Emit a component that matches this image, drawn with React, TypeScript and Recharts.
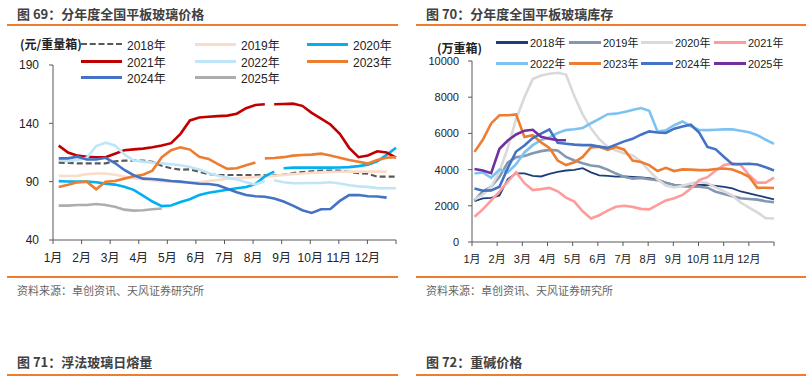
import React from 'react'
import { LineChart, Line, XAxis, YAxis } from 'recharts'

const FONT = '"Liberation Sans", "Noto Sans CJK SC", sans-serif'
const CJK = '"Noto Sans CJK SC", "Liberation Sans", sans-serif'

const MONTHS = ['1月', '2月', '3月', '4月', '5月', '6月', '7月', '8月', '9月', '10月', '11月', '12月']
const MONTH_TICKS = [0, 1, 2, 3, 4, 5, 6, 7, 8, 9, 10, 11, 12]
const YEARS = ['2018年', '2019年', '2020年', '2021年', '2022年', '2023年', '2024年', '2025年']

// BREAK marks a hole in a line between its two neighbours (it takes no slot on the grid)
const BREAK = null

// 图69 平板玻璃价格 (元/重量箱), roughly every 1/3 month
const PRICE_TICKS = [40, 90, 140, 190]
const PRICE_2018 = [106.3, 106, 105.7, 105.7, 105.7, 105.7, 107.5, 108, 108, 108, 107, 103.6, 101.5, 100.2, 100.5, 98.5, 96.5, 95.7, 95.7, 95.7, 95.7, 95.7, 95.5, 95.5, 96, 97.4, 98.3, 98.9, 99.4, 99.4, 99.4, 98.5, 97.3, 96.8, 94.3, 94.3, 94.3]
const PRICE_2019 = [95, 94.9, 95, 96.5, 97, 97, 96, 94.5, 93, 92, 91, 90.5, 90, 89.5, 89.5, 89.5, 90.5, 91.5, 92.5, 93, 93.5, 94, 94.5, 95, 95.8, 96.5, 97, 97.5, 98, 98.3, 98.5, 98.6, 98.6, 98.6, 98.6, 98.6]
const PRICE_2020 = [90.5, 90.2, 90, 90, 89.5, 88.3, 87.5, 85.7, 83, 78, 73, 69, 69.5, 72.5, 75, 78.5, 80.5, 81.8, 83, 84.3, 85.5, 88, 94.5, 98.6, BREAK, 101.5, 102, 102, 102, 102, 102, 102.2, 102.5, 103.3, 104.6, 107.5, 113, 119]
const PRICE_2021 = [120.9, 115, 112.3, 111.4, 110.9, 110.9, 114, 117, 117.7, 118.3, 119.5, 121, 123, 131, 142.5, 145, 145.7, 146.2, 146.6, 148.3, 153, 155.7, 156.3, BREAK, 156.4, 156.6, 156.9, 155, 149, 144, 139, 131, 119, 111, 112.5, 116, 115, 110.6]
const PRICE_2022 = [108.6, 107.5, 108.5, 110.5, 120.5, 123.4, 121, 113.5, 108, 107.2, 106.3, 105.8, 105, 104, 102.5, 100.5, 97.5, 95, 93.5, 91.8, 89.5, 87.5, 90.5, BREAK, 91.2, 89.5, 88.6, 88.6, 88.8, 89, 89.5, 88.5, 87, 86, 85.5, 84.5, 84.3, 84.3]
const PRICE_2023 = [85.5, 87.3, 89.4, 90, 83.5, 90, 90.6, 92.6, 94.6, 96, 99.5, 111, 117, 119.4, 117.5, 111.4, 109.5, 105, 101, 101.5, 104, 106.5, BREAK, 110, 110.3, 111, 112.3, 112.9, 113.2, 114, 112.5, 110.5, 108.5, 107, 105.5, 108.5, 110.5, 111]
const PRICE_2024 = [110, 110, 111.4, 109, 109, 110.5, 106, 100, 95.5, 92.6, 92.3, 91.5, 90.6, 90, 89.1, 88.2, 88, 87, 84, 81, 78.5, 77.5, 77.1, 75.5, 73, 69.5, 65.5, 63.2, 66.4, 66.6, 73.5, 78.5, 78.5, 77.5, 77.3, 76.3]
const PRICE_2025 = [69.5, 69.5, 70, 70, 70.8, 70, 68.5, 66, 65.2, 65.5, 66.3, 67]

// 图70 平板玻璃库存 (万重箱)
const STOCK_TICKS = [0, 2000, 4000, 6000, 8000, 10000]
const STOCK_2018 = [2250, 2410, 2440, 2570, 3480, 3790, 3790, 3650, 3620, 3760, 3880, 3950, 3990, 4080, 3850, 3680, 3650, 3610, 3630, 3600, 3570, 3530, 3450, 3280, 3150, 3110, 3090, 3150, 3160, 3100, 3040, 2960, 2790, 2690, 2570, 2470, 2350]
const STOCK_2019 = [2300, 2800, 3050, 3600, 4400, 4680, 4750, 4900, 5020, 5090, 5060, 4700, 4500, 4350, 4230, 4170, 4000, 3780, 3600, 3500, 3540, 3470, 3420, 3280, 3150, 3080, 3050, 3060, 3000, 2780, 2650, 2530, 2420, 2380, 2340, 2250, 2200]
const STOCK_2020 = [2350, 2620, 3050, 3880, 5200, 6800, 8000, 9000, 9200, 9300, 9350, 9250, 8060, 7050, 6280, 5680, 5270, 5050, 4900, 4780, 4450, 3930, 3470, 3120, 3010, 3110, 3230, 3320, 3250, 3020, 2800, 2570, 2180, 1900, 1640, 1320, 1300]
const STOCK_2021 = [1400, 1800, 2300, 2780, 3350, 3850, 3250, 2870, 2920, 2990, 2800, 2450, 2230, 1700, 1300, 1480, 1730, 1950, 2000, 1940, 1830, 1800, 2050, 2300, 2420, 2600, 2950, 3420, 3580, 3950, 4250, 4330, 4250, 3700, 3280, 3280, 3550]
const STOCK_2022 = [3780, 3840, 3550, 4000, 3850, 4300, 4950, 5350, 5630, 5780, 6020, 6180, 6230, 6300, 6560, 6800, 7060, 7090, 7180, 7290, 7400, 7250, 6100, 6170, 6450, 6660, 6400, 6190, 6180, 6200, 6220, 6220, 6150, 6060, 5900, 5650, 5420]
const STOCK_2023 = [4980, 5650, 6550, 7000, 7000, 7050, 5800, 5900, 5500, 5200, 4500, 4250, 4400, 4700, 5230, 5260, 5090, 5250, 5100, 4500, 4420, 4250, 3920, 4100, 3920, 4010, 4000, 3970, 3970, 4030, 4060, 4010, 3830, 3600, 2990, 3000, 2980]
const STOCK_2024 = [2950, 2830, 2850, 3050, 4080, 5000, 5330, 5740, 5990, 6220, 5480, 5430, 5380, 5350, 5350, 5270, 5200, 5380, 5560, 5700, 5930, 6110, 6050, 6030, 6260, 6380, 6480, 6050, 5250, 5120, 4700, 4300, 4310, 4320, 4280, 4130, 3950]
const STOCK_2025 = [4030, 3950, 3800, 5150, 5610, 5940, 6150, 6200, 5810, 5700, 5630, 5620]

const PRICE_SERIES = [PRICE_2018, PRICE_2019, PRICE_2020, PRICE_2021, PRICE_2022, PRICE_2023, PRICE_2024, PRICE_2025]
const STOCK_SERIES = [STOCK_2018, STOCK_2019, STOCK_2020, STOCK_2021, STOCK_2022, STOCK_2023, STOCK_2024, STOCK_2025]

const PRICE_COLORS = ['#595959', '#FADCC9', '#00B0F0', '#C00000', '#BFE6F8', '#ED7D31', '#4472C4', '#ADADAD']
const STOCK_COLORS = ['#1F3D7A', '#8497B0', '#D9D9D9', '#FF9B9B', '#7DC3F2', '#ED7D31', '#4472C4', '#7030A0']

type Pt = { x: number; y: number }

// split a series into drawable pieces on a grid of x = start + k*step
function pieces(values: (number | null)[], start: number, step: number): Pt[][] {
  const out: Pt[][] = [[]]
  let k = 0
  for (const v of values) {
    if (v === BREAK) {
      out.push([])
      continue
    }
    out[out.length - 1].push({ x: start + k * step, y: v as number })
    k++
  }
  return out.filter((p) => p.length > 0)
}

const monthLabel = (v: number) => (v < 12 ? MONTHS[v] : '')

function Legend({ items, colors, x0, cols, rowY, lineW, textDx, fontSize, dashedFirst }: {
  items: number[][]
  colors: string[]
  x0: number
  cols: number[]
  rowY: number[]
  lineW: number
  textDx: number
  fontSize: number
  dashedFirst?: boolean
}) {
  return (
    <>
      {items.map((row, r) =>
        row.map((idx, c) => (
          <div key={idx} style={{ position: 'absolute', left: x0 + cols[c], top: rowY[r] - 8, height: 16, display: 'flex', alignItems: 'center' }}>
            <div
              style={{
                width: lineW,
                height: 0,
                borderTop: dashedFirst && idx === 0 ? `2.5px dashed ${colors[idx]}` : `3px solid ${colors[idx]}`,
              }}
            />
            <span style={{ marginLeft: textDx - lineW, fontSize, color: '#222', fontFamily: FONT, whiteSpace: 'nowrap' }}>{YEARS[idx]}</span>
          </div>
        )),
      )}
    </>
  )
}

const orange = '#ED7D31'

function Rule({ left, width, top }: { left: number; width: number; top: number }) {
  return <div style={{ position: 'absolute', left, width, top, height: 1.5, background: orange }} />
}

function Text({ left, top, size, bold, color, children }: { left: number; top: number; size: number; bold?: boolean; color: string; children: React.ReactNode }) {
  return (
    <div style={{ position: 'absolute', left, top: top - 10, height: 20, lineHeight: '20px', fontSize: size, fontWeight: bold ? 700 : 400, color, fontFamily: CJK, whiteSpace: 'nowrap' }}>
      {children}
    </div>
  )
}

function seriesLines(series: (number | null)[][], colors: string[], start: number, step: number, width: (i: number) => number, dash?: (i: number) => string | undefined) {
  return series.flatMap((s, i) =>
    pieces(s, start, step).map((seg, j) => (
      <Line
        key={`${i}-${j}`}
        data={seg}
        dataKey="y"
        type="linear"
        stroke={colors[i]}
        strokeWidth={width(i)}
        strokeDasharray={dash ? dash(i) : undefined}
        dot={false}
        activeDot={false}
        isAnimationActive={false}
      />
    )),
  )
}

export default function App() {
  const axisStroke = '#595959'
  return (
    <div style={{ position: 'absolute', left: 0, top: 0, width: 812, height: 378, background: '#fff', overflow: 'hidden' }}>
      <Text left={17} top={14} size={13} bold color="#404040">图 69：分年度全国平板玻璃价格</Text>
      <Text left={426} top={14} size={13} bold color="#404040">图 70：分年度全国平板玻璃库存</Text>
      <Rule left={7} width={391} top={24} />
      <Rule left={416} width={390} top={24} />

      <div style={{ position: 'absolute', left: 0, top: 0 }}>
        <LineChart width={406} height={280} margin={{ top: 65, right: 10, bottom: 10, left: 0 }} style={{ fontFamily: FONT }}>
          <XAxis
            type="number"
            dataKey="x"
            domain={[0, 12]}
            ticks={MONTH_TICKS}
            tickFormatter={monthLabel}
            interval={0}
            height={30}
            tickSize={4}
            tickMargin={9}
            stroke={axisStroke}
            tick={{ fontSize: 12, fill: '#222' }}
            allowDuplicatedCategory={false}
          />
          <YAxis
            domain={[40, 190]}
            ticks={PRICE_TICKS}
            width={53}
            tickSize={4}
            tickMargin={10}
            stroke={axisStroke}
            tick={{ fontSize: 12, fill: '#222' }}
          />
          {seriesLines(PRICE_SERIES, PRICE_COLORS, 0.2, 11.8 / 36, (i) => (i === 0 ? 2.2 : 2.6), (i) => (i === 0 ? '6 3' : undefined))}
        </LineChart>
      </div>

      <div style={{ position: 'absolute', left: 406, top: 0 }}>
        <LineChart width={406} height={280} margin={{ top: 61, right: 38, bottom: 10, left: 0 }} style={{ fontFamily: FONT }}>
          <XAxis
            type="number"
            dataKey="x"
            domain={[0, 12]}
            ticks={MONTH_TICKS}
            tickFormatter={monthLabel}
            interval={0}
            height={28}
            tickSize={4}
            tickMargin={9}
            stroke={axisStroke}
            tick={{ fontSize: 11, fill: '#222' }}
            allowDuplicatedCategory={false}
          />
          <YAxis
            domain={[0, 10000]}
            ticks={STOCK_TICKS}
            width={66}
            tickSize={4}
            tickMargin={9}
            stroke={axisStroke}
            tick={{ fontSize: 11, fill: '#222' }}
          />
          {seriesLines(STOCK_SERIES, STOCK_COLORS, 0.1, 11.9 / 36, (i) => (i === 0 ? 1.8 : 2.6))}
        </LineChart>
      </div>

      <Text left={20} top={44} size={12} bold color="#222">(元/重量箱)</Text>
      <Legend
        items={[[0, 1, 2], [3, 4, 5], [6, 7]]}
        colors={PRICE_COLORS}
        x0={81}
        cols={[0, 114, 226]}
        rowY={[44, 61, 77]}
        lineW={41}
        textDx={46}
        fontSize={12}
        dashedFirst
      />

      <Text left={437} top={48} size={12} bold color="#222">(万重箱)</Text>
      <Legend
        items={[[0, 1, 2, 3], [4, 5, 6, 7]]}
        colors={STOCK_COLORS}
        x0={496}
        cols={[0, 73, 145, 218]}
        rowY={[42, 63]}
        lineW={32}
        textDx={34}
        fontSize={11}
      />

      <Rule left={7} width={391} top={276} />
      <Rule left={416} width={390} top={276} />
      <Text left={17} top={290} size={11} color="#666">资料来源：卓创资讯、天风证券研究所</Text>
      <Text left={426} top={290} size={11} color="#666">资料来源：卓创资讯、天风证券研究所</Text>

      <Text left={17} top={362} size={13} bold color="#404040">图 71：浮法玻璃日熔量</Text>
      <Text left={426} top={362} size={13} bold color="#404040">图 72：重碱价格</Text>
      <Rule left={7} width={391} top={374} />
      <Rule left={416} width={390} top={374} />
    </div>
  )
}
